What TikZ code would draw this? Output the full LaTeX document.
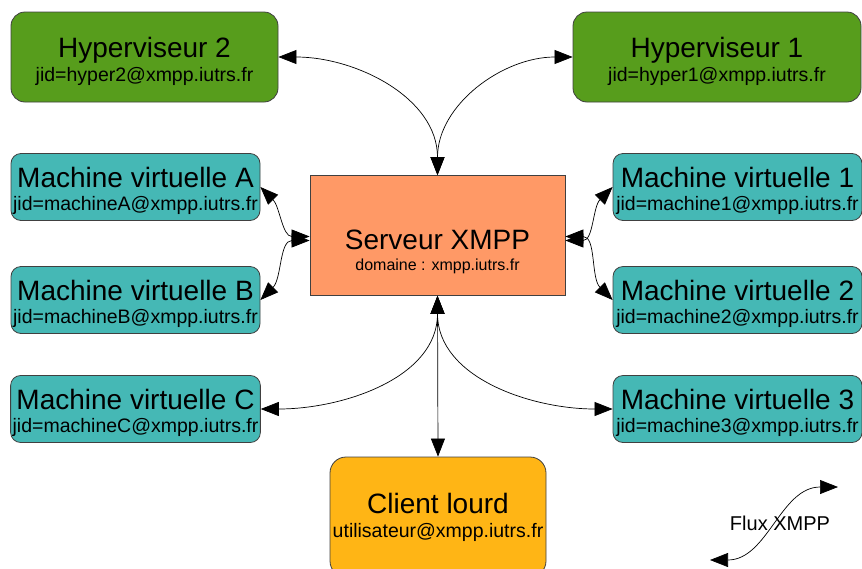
\documentclass[tikz,border=0pt]{standalone}
\usepackage{fontspec}
\setmainfont{Liberation Sans}
\usetikzlibrary{positioning,arrows.meta}

\definecolor{hypergreen}{HTML}{579D1C}
\definecolor{vmteal}{HTML}{45B8B5}
\definecolor{srvsalmon}{HTML}{FF9966}
\definecolor{clientorange}{HTML}{FFB515}

\newcommand\subfont{\fontsize{19.5}{22}\selectfont}
\newcommand\domfont{\fontsize{16}{18}\selectfont}

\tikzset{
    box/.style={draw=black!75, line width=0.8pt, align=center, inner sep=2pt},
    hyper/.style={box, fill=hypergreen, rounded corners=14pt, minimum width=267pt, minimum height=90pt, font=\fontsize{28}{24}\selectfont},
    vm/.style={box, fill=vmteal, rounded corners=10pt, minimum width=249pt, minimum height=67pt, font=\fontsize{28}{23}\selectfont},
    server/.style={box, fill=srvsalmon, minimum width=255pt, minimum height=120pt, font=\fontsize{28}{21}\selectfont},
    client/.style={box, fill=clientorange, rounded corners=16pt, minimum width=216pt, minimum height=120pt, font=\fontsize{28}{24}\selectfont}
}

\begin{document}
\begin{tikzpicture}[x=1pt,y=-1pt,>={Triangle[length=18pt,width=14pt]},line width=0.7pt]
    \useasboundingbox (0,0) rectangle (862,568);
    \clip (0,0) rectangle (862,568);

    \node[hyper] (hyp_2) at (144.5,57) {\rule{0pt}{30pt}Hyperviseur 2\\{\subfont jid=hyper2@xmpp.iutrs.fr}};
    \node[hyper, minimum width=288pt] (hyp_1) at (717,57) {\rule{0pt}{30pt}Hyperviseur 1\\{\subfont jid=hyper1@xmpp.iutrs.fr}};

    \node[vm] (vm_a) at (135.5,187) {\rule{0pt}{29pt}Machine virtuelle A\\{\subfont jid=machineA@xmpp.iutrs.fr}};
    \node[vm] (vm_b) at (135.5,300) {\rule{0pt}{29pt}Machine virtuelle B\\{\subfont jid=machineB@xmpp.iutrs.fr}};
    \node[vm] (vm_c) at (135.5,409) {\rule{0pt}{29pt}Machine virtuelle C\\{\subfont jid=machineC@xmpp.iutrs.fr}};
    \node[vm] (vm_1) at (737.5,187) {\rule{0pt}{29pt}Machine virtuelle 1\\{\subfont jid=machine1@xmpp.iutrs.fr}};
    \node[vm] (vm_2) at (737.5,300) {\rule{0pt}{29pt}Machine virtuelle 2\\{\subfont jid=machine2@xmpp.iutrs.fr}};
    \node[vm] (vm_3) at (737.5,409) {\rule{0pt}{29pt}Machine virtuelle 3\\{\subfont jid=machine3@xmpp.iutrs.fr}};

    \node[server] (srv) at (437.5,235.5) {\rule{0pt}{53pt}Serveur XMPP\\{\domfont domaine : xmpp.iutrs.fr}};
    \node[client] (client) at (438,517) {Client lourd\\{\subfont utilisateur@xmpp.iutrs.fr}};

    % legende
    \coordinate (flux_a) at (710,560);
    \coordinate (flux_b) at (838,487);
    \node[font=\fontsize{20}{22}\selectfont] (flux) at (780,523) {Flux XMPP};

    \path[<->]
        (hyp_2.east)
            edge [out=0, in=90] (srv.north)
        (hyp_1.west)
            edge [out=180, in=90] (srv.north)
        (vm_a.east)
            edge [out=-45, in=180] ([yshift=-1pt]srv.west)
        (vm_b.east)
            edge [out=45, in=180] ([yshift=-5pt]srv.west)
        (vm_1.west)
            edge [out=-135, in=0] ([yshift=-5pt]srv.east)
        (vm_2.west)
            edge [out=135, in=0] ([yshift=-1pt]srv.east)
        (vm_c.east)
            edge [out=0, in=-90] (srv.south)
        (vm_3.west)
            edge [out=180, in=-90] (srv.south)
        (client.north)
            edge (srv.south)
        (flux_a)
            edge [out=0, in=180] (flux_b);
\end{tikzpicture}
\end{document}
